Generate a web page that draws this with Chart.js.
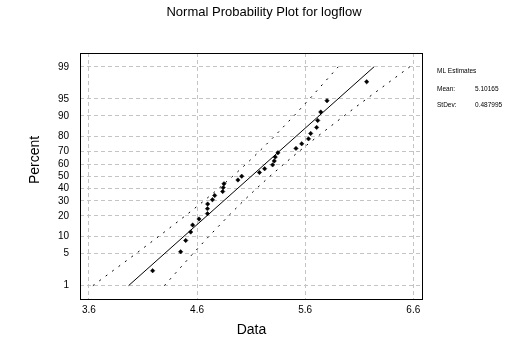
<!DOCTYPE html>
<html>
<head>
<meta charset="utf-8">
<script src="https://cdn.jsdelivr.net/npm/chart.js@4.4.0/dist/chart.umd.min.js"></script>
<style>
  html, body { margin: 0; padding: 0; background: #fff; }
</style>
</head>
<body>
<canvas id="chart" width="530" height="354"></canvas>
<script>
// sorted logflow values, with their plotting percents
const dataValues = [4.189, 4.448, 4.495, 4.541, 4.559, 4.618, 4.696, 4.696, 4.698, 4.742,
    4.763, 4.837, 4.842, 4.849, 4.978, 5.013, 5.177, 5.225, 5.299, 5.314,
    5.323, 5.348, 5.515, 5.568, 5.631, 5.651, 5.706, 5.716, 5.744, 5.802, 6.169]
const dataPercents = [2.23, 5.41, 8.60, 11.78, 14.97, 18.15, 21.34, 24.52, 27.71, 30.89,
    34.08, 37.26, 40.45, 43.63, 46.82, 50.00, 53.18, 56.37, 59.55, 62.74,
    65.92, 69.11, 72.29, 75.48, 78.66, 81.85, 85.03, 88.22, 91.40, 94.59, 97.77]

// fitted line and 95% band
const fitPercents = [1, 99]
const fitValues = [3.966, 6.237]
const bandPercents = [1, 5, 10, 20, 30, 40, 50, 60, 70, 80, 90, 95, 99]
const lowerBand = [3.636, 4.035, 4.244, 4.491, 4.663, 4.804, 4.930, 5.051, 5.174, 5.312, 5.495, 5.641, 5.906]
const upperBand = [4.297, 4.562, 4.708, 4.891, 5.029, 5.153, 5.274, 5.400, 5.541, 5.712, 5.959, 6.168, 6.568]

const yTickLabels = [1, 5, 10, 20, 30, 40, 50, 60, 70, 80, 90, 95, 99]
const xTickLabels = [3.6, 4.6, 5.6, 6.6]
const estimates = [['Mean:', '5.10165'], ['StDev:', '0.487995']]

const FONT = '"Liberation Sans", Arial, sans-serif'

// inverse normal cdf, used as the probability scale transform
function probit(p) {
    const a = [-3.969683028665376e+01, 2.209460984245205e+02, -2.759285104469687e+02, 1.383577518672690e+02, -3.066479806614716e+01, 2.506628277459239e+00]
    const b = [-5.447609879822406e+01, 1.615858368580409e+02, -1.556989798598866e+02, 6.680131188771972e+01, -1.328068155288572e+01]
    const c = [-7.784894002430293e-03, -3.223964580411365e-01, -2.400758277161838e+00, -2.549671010010750e+00, 4.374664141464968e+00, 2.938163982698783e+00]
    const d = [7.784695709041462e-03, 3.224671290700398e-01, 2.445134137142996e+00, 3.754408661907416e+00]
    const pl = 0.02425
    let q, r
    if (p < pl) {
        q = Math.sqrt(-2 * Math.log(p))
        return (((((c[0] * q + c[1]) * q + c[2]) * q + c[3]) * q + c[4]) * q + c[5]) / ((((d[0] * q + d[1]) * q + d[2]) * q + d[3]) * q + 1)
    }
    if (p > 1 - pl) {
        q = Math.sqrt(-2 * Math.log(1 - p))
        return -(((((c[0] * q + c[1]) * q + c[2]) * q + c[3]) * q + c[4]) * q + c[5]) / ((((d[0] * q + d[1]) * q + d[2]) * q + d[3]) * q + 1)
    }
    q = p - 0.5
    r = q * q
    return (((((a[0] * r + a[1]) * r + a[2]) * r + a[3]) * r + a[4]) * r + a[5]) * q / (((((b[0] * r + b[1]) * r + b[2]) * r + b[3]) * r + b[4]) * r + 1)
}

const toPoints = (xs, ps) => xs.map((x, i) => ({ x: x, y: probit(ps[i] / 100) }))

const textPlugin = {
    id: 'textPlugin',
    afterDraw(chart) {
        const ctx = chart.ctx
        const area = chart.chartArea
        ctx.save()
        // frame
        ctx.strokeStyle = '#000'
        ctx.lineWidth = 1
        ctx.strokeRect(area.left + 0.5, area.top + 0.5, area.right - area.left - 1, area.bottom - area.top)
        ctx.fillStyle = '#000'
        ctx.textBaseline = 'middle'
        // title
        ctx.font = '13px ' + FONT
        ctx.textAlign = 'center'
        ctx.fillText('Normal Probability Plot for logflow', 264, 12)
        // y axis title
        ctx.save()
        ctx.translate(35, 160)
        ctx.rotate(-Math.PI / 2)
        ctx.font = '14px ' + FONT
        ctx.fillText('Percent', 0, 0)
        ctx.restore()
        // estimates box
        ctx.font = '6.5px ' + FONT
        ctx.textAlign = 'left'
        ctx.fillText('ML Estimates', 437, 71)
        estimates.forEach((e, i) => {
            ctx.fillText(e[0], 437, 89 + i * 16)
            ctx.fillText(e[1], 475, 89 + i * 16)
        })
        ctx.restore()
    }
}

new Chart(document.getElementById('chart'), {
    type: 'scatter',
    data: {
        datasets: [{
            data: toPoints(dataValues, dataPercents),
            pointStyle: 'rectRot',
            pointRadius: 2.2,
            backgroundColor: '#000',
            borderColor: '#000',
            borderWidth: 0.5
        }, {
            data: toPoints(fitValues, fitPercents),
            showLine: true,
            borderColor: '#000',
            borderWidth: 1,
            pointRadius: 0
        }, {
            data: toPoints(lowerBand, bandPercents),
            showLine: true,
            borderColor: '#000',
            borderWidth: 1,
            borderDash: [2, 6],
            pointRadius: 0
        }, {
            data: toPoints(upperBand, bandPercents),
            showLine: true,
            borderColor: '#000',
            borderWidth: 1,
            borderDash: [2, 6],
            pointRadius: 0
        }]
    },
    options: {
        responsive: false,
        animation: false,
        devicePixelRatio: 1,
        layout: {
            padding: { top: 53, right: 107, left: 0, bottom: 0 }
        },
        plugins: {
            legend: { display: false },
            tooltip: { enabled: false }
        },
        scales: {
            x: {
                type: 'linear',
                min: 3.517,
                max: 6.69,
                afterBuildTicks: s => { s.ticks = xTickLabels.map(v => ({ value: v })) },
                afterFit: s => { s.height = 55 },
                ticks: {
                    callback: v => v.toFixed(1),
                    font: { family: FONT, size: 10 },
                    color: '#000',
                    padding: 5,
                    maxRotation: 0
                },
                grid: { color: '#c4c4c4', drawTicks: false },
                border: { display: false, dash: [4, 3] },
                title: {
                    display: true,
                    text: 'Data',
                    font: { family: FONT, size: 14 },
                    color: '#000',
                    padding: { top: 0, bottom: 15 }
                }
            },
            y: {
                type: 'linear',
                min: -2.61,
                max: 2.62,
                afterBuildTicks: s => { s.ticks = yTickLabels.map(v => ({ value: probit(v / 100) })) },
                afterFit: s => { s.width = 80 },
                ticks: {
                    callback: (v, i) => String(yTickLabels[i]),
                    font: { family: FONT, size: 10 },
                    color: '#000',
                    padding: 11
                },
                grid: { color: '#c4c4c4', drawTicks: false },
                border: { display: false, dash: [4, 3] }
            }
        }
    },
    plugins: [textPlugin]
})
</script>
</body>
</html>
